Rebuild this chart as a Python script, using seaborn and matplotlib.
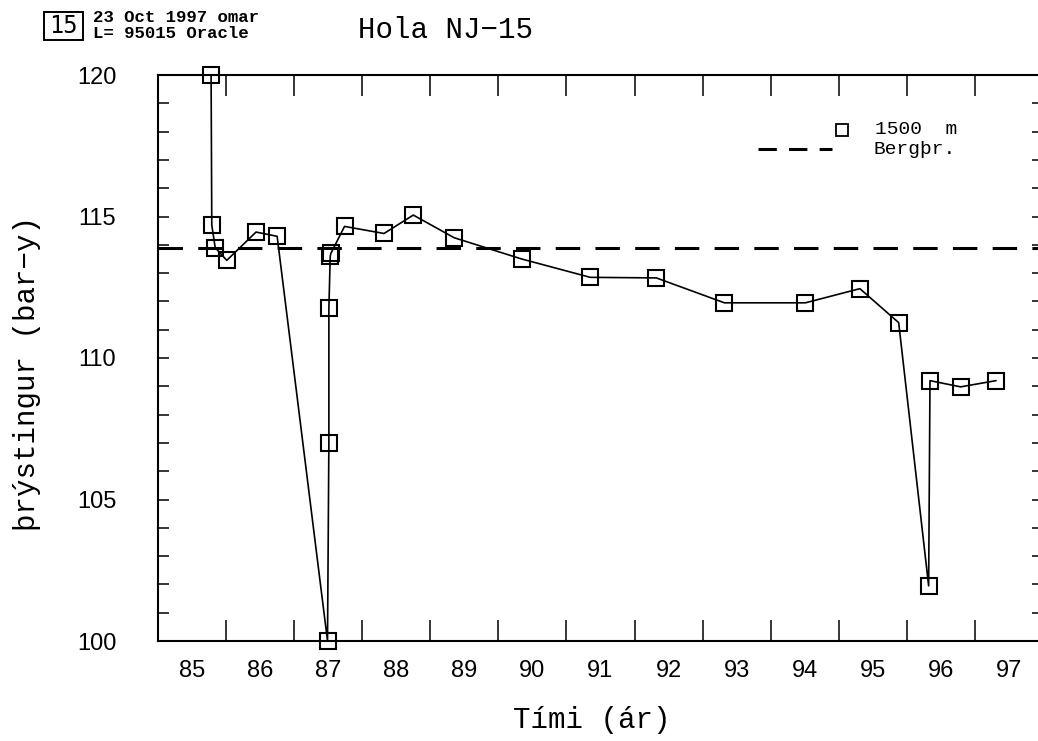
import numpy as np
import pandas as pd
import matplotlib
matplotlib.use("Agg")
import matplotlib.pyplot as plt
from matplotlib.patches import Rectangle
import seaborn as sns

# Measurements at 1500 m depth, well NJ-15 (time in years 19xx, pressure in bar-g)
years = [85.78, 85.79, 85.84, 86.01, 86.44, 86.75, 87.49, 87.51, 87.51, 87.53,
         87.54, 87.74, 88.32, 88.75, 89.35, 90.34, 91.35, 92.32, 93.32, 94.51,
         95.31, 95.88, 96.32, 96.34, 96.79, 97.31]
pressure = [120.0, 114.7, 113.9, 113.45, 114.45, 114.3, 100.0, 107.0, 111.75, 113.6,
            113.7, 114.65, 114.4, 115.05, 114.25, 113.5, 112.85, 112.83, 111.95, 111.95,
            112.45, 111.25, 101.95, 109.2, 108.98, 109.2]
rock_pressure = 113.9

x_year_ticks = list(range(85, 99))
x_year_labels = [str(y) for y in range(85, 98)]
y_major = [100, 105, 110, 115, 120]

df = pd.DataFrame({"year": years, "pressure": pressure})

sns.set_style("ticks")
plt.rcParams["font.family"] = ["Liberation Mono", "DejaVu Sans Mono"]
plt.rcParams["text.color"] = "black"
plt.rcParams["axes.labelcolor"] = "black"

fig = plt.figure(figsize=(10.38, 7.41), dpi=100)
ax = fig.add_axes([158 / 1038, 1 - 641 / 741, 885 / 1038, 566 / 741])

sns.lineplot(data=df, x="year", y="pressure", sort=False, estimator=None,
             color="black", linewidth=1.2, marker="s", markersize=11,
             markerfacecolor="none", markeredgecolor="black", markeredgewidth=1.5,
             ax=ax)
for ln in ax.lines:
    ln.set_clip_on(False)  # boxes at 100 and 120 sit on the frame
ax.axhline(rock_pressure, color="black", linewidth=2.2, linestyle=(0, (8, 5)))

ax.set_xlim(85, 98)
ax.set_ylim(100, 120)

tick_font = dict(fontfamily="Liberation Sans", fontsize=17)

# year boundaries as unlabeled ticks, labels centred in each year
ax.set_xticks(x_year_ticks)
ax.set_xticklabels([])
ax.set_xticks([y + 0.5 for y in range(85, 98)], minor=True)
ax.set_xticklabels(x_year_labels, minor=True, **tick_font)
ax.tick_params(axis="x", which="major", direction="in", length=15, width=1.3,
               top=True, bottom=True)
ax.tick_params(axis="x", which="minor", length=0, pad=14, labelcolor="black")

ax.set_yticks(y_major)
ax.set_yticklabels([str(v) for v in y_major], **tick_font)
ax.set_yticks(range(100, 121), minor=True)
ax.tick_params(axis="y", which="both", direction="in", length=8, width=1.3,
               left=True, right=True, pad=30, labelcolor="black")

for s in ax.spines.values():
    s.set_linewidth(1.5)
    s.set_color("black")

ax.set_xlabel("Tími (ár)", fontsize=21)
ax.xaxis.set_label_coords(0.49, -0.14)
ax.xaxis.label.set_va("center")
ax.set_ylabel("þrýstingur (bar\u2212y)", fontsize=21)
ax.yaxis.set_label_coords(-0.1475, 0.473)
ax.yaxis.label.set_va("center")

# legend, drawn by hand like the original plotter output
ax.plot([0.773], [0.902], transform=ax.transAxes, marker="s", markersize=8.5,
        markerfacecolor="none", markeredgecolor="black", markeredgewidth=1.3,
        clip_on=False)
ax.text(0.81, 0.904, "1500  m", transform=ax.transAxes, fontsize=14, va="center")
ax.plot([0.678, 0.762], [0.869, 0.869], transform=ax.transAxes, color="black",
        linewidth=2.2, linestyle=(0, (6, 4)))
ax.text(0.808, 0.869, "Bergþr.", transform=ax.transAxes, fontsize=14, va="center")

# title and plotter stamp
fig.text(445 / 1038, 1 - 30 / 741, "Hola NJ\u221215", fontsize=21, ha="center",
         va="center")
fig.patches.append(Rectangle((44 / 1038, 1 - 40 / 741), 39 / 1038, 28 / 741,
                             transform=fig.transFigure, fill=False,
                             edgecolor="black", linewidth=1.4))
fig.text(63.5 / 1038, 1 - 26 / 741, "15", fontsize=17, ha="center", va="center",
         fontfamily="DejaVu Sans Mono")
fig.text(93 / 1038, 1 - 18 / 741, "23 Oct 1997 omar", fontsize=12.5,
         fontweight="bold", va="center")
fig.text(93 / 1038, 1 - 33 / 741, "L= 95015 Oracle", fontsize=12.5,
         fontweight="bold", va="center")

fig.savefig("out.png", dpi=100)
